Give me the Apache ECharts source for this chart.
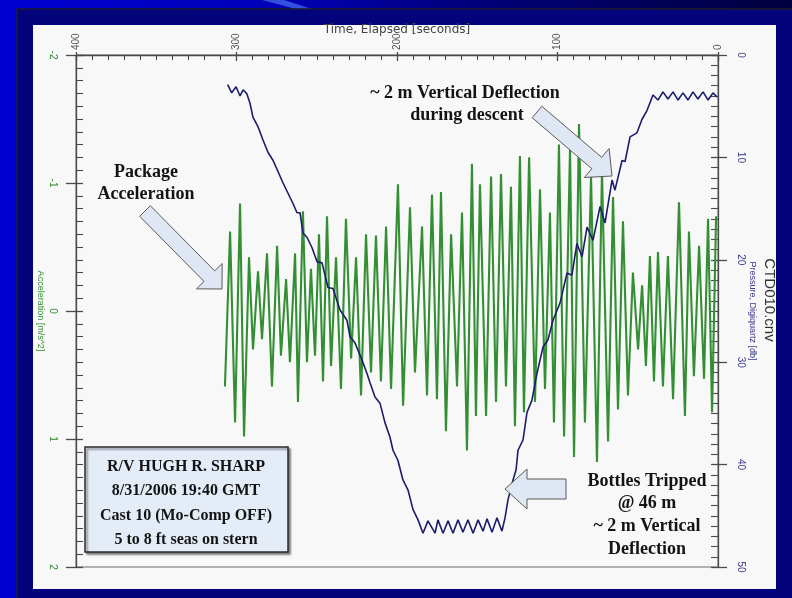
<!DOCTYPE html>
<html><head><meta charset="utf-8">
<script src="https://cdn.jsdelivr.net/npm/echarts@6/dist/echarts.min.js"></script>
<style>html,body{margin:0;padding:0;width:792px;height:598px;overflow:hidden;background:#00008a}#c{width:792px;height:598px}</style>
</head><body><div id="c"></div>
<script>
// ---- tick values ----
const timeTicks = [0, 100, 200, 300, 400];
const accelTicks = [-2, -1, 0, 1, 2];
const pressureTicks = [0, 10, 20, 30, 40, 50];

// ---- acceleration [m/s^2] vs elapsed time [s] ----
const accelTime = [307.2,304.0,300.9,297.8,295.3,292.2,289.7,286.6,284.1,281.0,
277.9,274.7,272.3,269.1,266.7,263.5,261.7,258.6,256.1,253.6,
251.1,248.6,246.1,243.6,241.1,238.0,234.9,231.8,228.6,225.5,
222.4,219.3,216.2,213.1,210.0,206.8,203.7,199.4,196.2,191.9,
188.8,184.4,181.3,178.2,175.1,172.6,169.5,166.3,162.6,159.5,
156.4,153.3,150.8,148.3,144.5,141.4,138.3,135.2,132.1,129.0,
126.5,123.4,120.9,117.7,114.0,110.9,107.8,104.7,102.2,99.1,
95.9,92.2,89.7,86.6,82.9,79.1,75.4,72.3,68.5,65.4,
62.3,59.2,56.1,53.0,49.8,47.3,44.9,42.4,39.9,37.4,
34.3,31.2,28.0,24.3,20.6,18.1,15.0,11.8,8.7,6.2,
3.7,1.2];
const accelValue = [0.59,-0.62,0.87,-0.84,0.98,-0.42,0.30,-0.31,0.22,-0.45,
0.59,-0.51,0.35,-0.25,0.40,-0.45,0.71,-0.78,0.40,-0.33,
0.35,-0.60,0.55,-0.74,0.43,-0.42,0.61,-0.72,0.37,-0.42,
0.66,-0.60,0.48,-0.59,0.55,-0.66,0.61,-0.99,0.74,-0.81,
0.48,-0.66,0.66,-0.91,0.69,-0.93,0.94,-0.60,0.59,-0.77,
1.09,-1.15,0.82,-0.99,0.82,-1.05,0.71,-1.07,0.59,-0.97,
0.90,-1.21,0.79,-1.20,0.71,-0.95,0.61,-0.77,0.87,-1.30,
0.98,-1.27,1.14,-1.46,0.87,-1.05,1.18,-1.09,1.02,-0.89,
0.77,-0.70,0.66,-0.30,0.30,-0.20,0.43,-0.43,0.55,-0.46,
0.59,-0.43,0.69,-0.85,0.82,-0.62,0.51,-0.51,0.53,-0.72,
0.79,-0.74];

// ---- pressure [db] vs elapsed time [s] ----
const pressTime = [305.5,303.0,300.3,297.8,295.9,293.5,291.6,289.7,286.6,283.5,
280.4,277.2,274.1,271.0,267.9,264.8,262.3,260.4,258.6,256.1,
253.0,249.8,246.7,243.0,239.9,235.5,231.2,229.3,226.2,221.8,
218.7,216.8,213.7,210.6,207.5,204.4,202.5,199.4,196.3,193.1,
190.0,186.9,183.8,180.7,176.3,174.5,171.3,168.2,165.1,162.0,
158.9,155.8,152.6,149.5,146.4,143.9,140.8,137.7,134.6,132.7,
130.8,127.7,125.8,124.6,121.5,119.0,115.9,112.8,109.0,105.9,
102.8,98.4,94.1,91.0,87.9,84.7,81.6,77.9,73.5,70.4,
66.0,64.2,59.8,57.9,54.8,50.5,47.4,44.2,40.5,37.4,
34.3,31.2,28.0,24.9,21.8,18.7,15.6,12.5,9.3,6.2,
3.1,0.6];
const pressValue = [2.9,3.7,3.1,4.0,3.4,3.8,4.7,6.1,7.0,8.3,
9.5,10.3,11.4,12.5,13.5,14.5,15.4,15.4,17.4,17.8,
18.8,20.2,20.3,22.7,22.8,24.9,25.9,27.5,28.1,29.8,
31.1,32.0,33.4,34.0,35.9,37.3,38.6,39.6,41.5,42.5,
44.4,45.4,46.7,45.5,46.7,45.4,46.7,45.5,46.7,45.4,
46.6,45.4,46.7,45.4,46.5,45.3,46.6,45.2,46.5,45.2,
43.4,41.5,40.5,38.6,37.6,34.9,33.7,31.1,28.5,27.8,
25.9,24.2,21.3,21.5,18.4,19.7,16.8,18.1,14.8,16.4,
12.2,13.2,10.3,10.4,8.0,7.6,6.3,5.4,3.9,4.4,
3.6,4.3,3.6,4.4,3.7,4.4,3.6,4.3,3.6,4.4,
3.7,4.1];

// ---- texts ----
const timeAxisName = 'Time, Elapsed [seconds]';
const accelAxisName = 'Acceleration [m/s^2]';
const pressAxisName = 'Pressure, Digiquartz [db]';
const fileName = 'CTD010.cnv';
const boxLines = ['R/V HUGH R. SHARP', '8/31/2006 19:40 GMT', 'Cast 10 (Mo-Comp OFF)', '5 to 8 ft seas on stern'];
const pkgLines = ['Package', 'Acceleration'];
const descentLines = ['~ 2 m Vertical Deflection', 'during descent'];
const bottlesLines = ['Bottles Tripped', '@ 46 m', '~ 2 m Vertical', 'Deflection'];

const accelData = accelTime.map((t, i) => [t, accelValue[i]]);
const pressData = pressTime.map((t, i) => [t, pressValue[i]]);

const chart = echarts.init(document.getElementById('c'), null, {renderer: 'canvas'});

function blockArrow(tail, tip, shaftW, headW, headL) {
  const dx = tip[0] - tail[0], dy = tip[1] - tail[1];
  const L = Math.hypot(dx, dy), ux = dx / L, uy = dy / L, px = -uy, py = ux;
  const bx = tip[0] - ux * headL, by = tip[1] - uy * headL;
  return [
    [tail[0] + px * shaftW / 2, tail[1] + py * shaftW / 2],
    [bx + px * shaftW / 2, by + py * shaftW / 2],
    [bx + px * headW / 2, by + py * headW / 2],
    [tip[0], tip[1]],
    [bx - px * headW / 2, by - py * headW / 2],
    [bx - px * shaftW / 2, by - py * shaftW / 2],
    [tail[0] - px * shaftW / 2, tail[1] - py * shaftW / 2]
  ];
}
const arrowStyle = {fill: '#dfe7f5', stroke: '#5a5a5a', lineWidth: 1};
const serifBold = '"Liberation Serif", "Times New Roman", serif';

function textEl(str, x, y, size, extra) {
  return Object.assign({
    type: 'text', x: x, y: y, z: 20,
    style: {text: str, align: 'center', verticalAlign: 'middle', textAlign: 'center', textVerticalAlign: 'middle',
      fontFamily: serifBold, fontWeight: 'bold', fontSize: size, fill: '#141414'}
  }, extra || {});
}

const graphics = [
  {type: 'rect', z: -100, silent: true, shape: {x: 0, y: 0, width: 792, height: 598},
   style: {fill: new echarts.graphic.LinearGradient(0, 0, 1, 0, [
     {offset: 0, color: '#0000d4'}, {offset: 0.35, color: '#0000b8'}, {offset: 0.6, color: '#00007a'}, {offset: 1, color: '#000040'}])}},
  {type: 'polygon', z: -99, silent: true, shape: {points: [[262, 0], [284, 0], [312, 9], [296, 9]]}, style: {fill: '#3550dc'}},
  {type: 'rect', z: -98, silent: true, shape: {x: 17, y: 9, width: 780, height: 595},
   style: {fill: '#03037c', stroke: '#1c1c2c', lineWidth: 1.5}},
  {type: 'rect', z: -97, silent: true, shape: {x: 33, y: 25, width: 743, height: 564}, style: {fill: '#f8f8f8'}},
  // info box
  {type: 'rect', z: 18, shape: {x: 85, y: 447, width: 203, height: 105},
   style: {fill: '#e4ecf8', stroke: '#2a2a2a', lineWidth: 1.5, shadowBlur: 2, shadowColor: 'rgba(0,0,0,0.45)', shadowOffsetX: 2, shadowOffsetY: 2}},
  // arrows
  {type: 'polygon', z: 19, shape: {points: blockArrow([145, 211], [222, 289], 15, 36, 18)}, style: arrowStyle},
  {type: 'polygon', z: 19, shape: {points: blockArrow([537, 112], [612, 176], 15, 38, 20)}, style: arrowStyle},
  {type: 'polygon', z: 19, shape: {points: blockArrow([566, 489], [505, 489], 20, 40, 22)}, style: arrowStyle},
  // file name
  {type: 'text', x: 769, y: 300, rotation: -Math.PI / 2, z: 20,
   style: {text: fileName, align: 'center', verticalAlign: 'middle', textAlign: 'center', textVerticalAlign: 'middle',
     fontFamily: 'Liberation Sans Narrow, Liberation Sans, Arial, sans-serif', fontSize: 15, fill: '#333333'}}
];
boxLines.forEach((s, i) => graphics.push(textEl(s, 186, 467 + i * 24.3, 16)));
pkgLines.forEach((s, i) => graphics.push(textEl(s, 146, 172 + i * 22, 18)));
descentLines.forEach((s, i) => graphics.push(textEl(s, 465 + i * 2, 93 + i * 22, 18)));
bottlesLines.forEach((s, i) => graphics.push(textEl(s, 647, 481 + i * 22.7, 18)));

const axisLineStyle = {color: '#4a4a4a', width: 1.3};
const labelFont = 'Liberation Sans, Arial, sans-serif';

function mainAxis(extra) {
  return Object.assign({
    type: 'value',
    axisLine: {show: true, onZero: false, lineStyle: axisLineStyle},
    axisTick: {show: true, inside: false, length: 8, lineStyle: axisLineStyle},
    minorTick: {show: false},
    splitLine: {show: false},
    nameMoveOverlap: false
  }, extra);
}
function tickAxis(extra) {
  return Object.assign({
    type: 'value',
    axisLine: {show: false, onZero: false},
    axisLabel: {show: false},
    axisTick: {show: true, inside: true, length: 7, lineStyle: axisLineStyle},
    minorTick: {show: true, splitNumber: 10, length: 7, lineStyle: {color: '#4a4a4a', width: 1.1}},
    splitLine: {show: false}
  }, extra);
}

const tMin = timeTicks[0], tMax = timeTicks[timeTicks.length - 1], tInt = timeTicks[1] - timeTicks[0];
const aMin = accelTicks[0], aMax = accelTicks[accelTicks.length - 1], aInt = accelTicks[1] - accelTicks[0];
const pMin = pressureTicks[0], pMax = pressureTicks[pressureTicks.length - 1], pInt = pressureTicks[1] - pressureTicks[0];

chart.setOption({
  animation: false,
  backgroundColor: 'transparent',
  grid: {left: 76, right: 74, top: 55, bottom: 31, show: true, borderColor: '#6a6a6a', borderWidth: 1, backgroundColor: 'transparent', containLabel: false, outerBoundsMode: 'none'},
  xAxis: [
    mainAxis({position: 'top', inverse: true, min: tMin, max: tMax, interval: tInt,
      axisTick: {show: true, inside: false, length: 3, lineStyle: axisLineStyle},
      axisLabel: {show: true, rotate: -90, margin: 5, color: '#555555', fontSize: 10, fontFamily: labelFont, showMinLabel: true, showMaxLabel: true},
      name: timeAxisName, nameLocation: 'middle', nameGap: 19,
      nameTextStyle: {color: '#444444', fontSize: 12, fontFamily: 'DejaVu Sans, sans-serif'}}),
    tickAxis({position: 'top', inverse: true, min: tMin, max: tMax, interval: tInt,
      axisTick: {show: true, inside: true, length: 6, lineStyle: axisLineStyle},
      minorTick: {show: true, splitNumber: 10, length: 5, lineStyle: {color: '#4a4a4a', width: 1.1}}})
  ],
  yAxis: [
    mainAxis({position: 'left', inverse: true, min: aMin, max: aMax, interval: aInt,
      axisTick: {show: true, inside: false, length: 10, lineStyle: axisLineStyle},
      axisLabel: {show: true, rotate: -90, margin: 18, color: '#2e8b2e', fontSize: 10, fontFamily: labelFont, showMinLabel: true, showMaxLabel: true},
      name: accelAxisName, nameLocation: 'middle', nameGap: 31, nameRotate: -90,
      nameTextStyle: {color: '#2e8b2e', fontSize: 9, fontFamily: 'Liberation Sans Narrow, Liberation Sans, sans-serif'}}),
    tickAxis({position: 'left', inverse: true, min: aMin, max: aMax, interval: aInt}),
    mainAxis({position: 'right', inverse: true, min: pMin, max: pMax, interval: pInt,
      axisTick: {show: true, inside: false, length: 9, lineStyle: axisLineStyle},
      axisLabel: {show: true, rotate: -90, margin: 18, color: '#3a3a8a', fontSize: 10, fontFamily: labelFont, showMinLabel: true, showMaxLabel: true},
      name: pressAxisName, nameLocation: 'middle', nameGap: 30, nameRotate: -90,
      nameTextStyle: {color: '#3a3a8a', fontSize: 9, fontFamily: 'Liberation Sans Narrow, Liberation Sans, sans-serif'}}),
    tickAxis({position: 'right', inverse: true, min: pMin, max: pMax, interval: pInt})
  ],
  series: [
    {type: 'line', name: 'Acceleration', xAxisIndex: 0, yAxisIndex: 0, data: accelData,
     showSymbol: false, symbol: 'none', z: 3, lineStyle: {color: '#348f34', width: 2.1}},
    {type: 'line', name: 'Pressure', xAxisIndex: 0, yAxisIndex: 2, data: pressData,
     showSymbol: false, symbol: 'none', z: 4, lineStyle: {color: '#1c1c6c', width: 1.6}}
  ],
  graphic: {elements: graphics}
});
</script>
</body></html>
